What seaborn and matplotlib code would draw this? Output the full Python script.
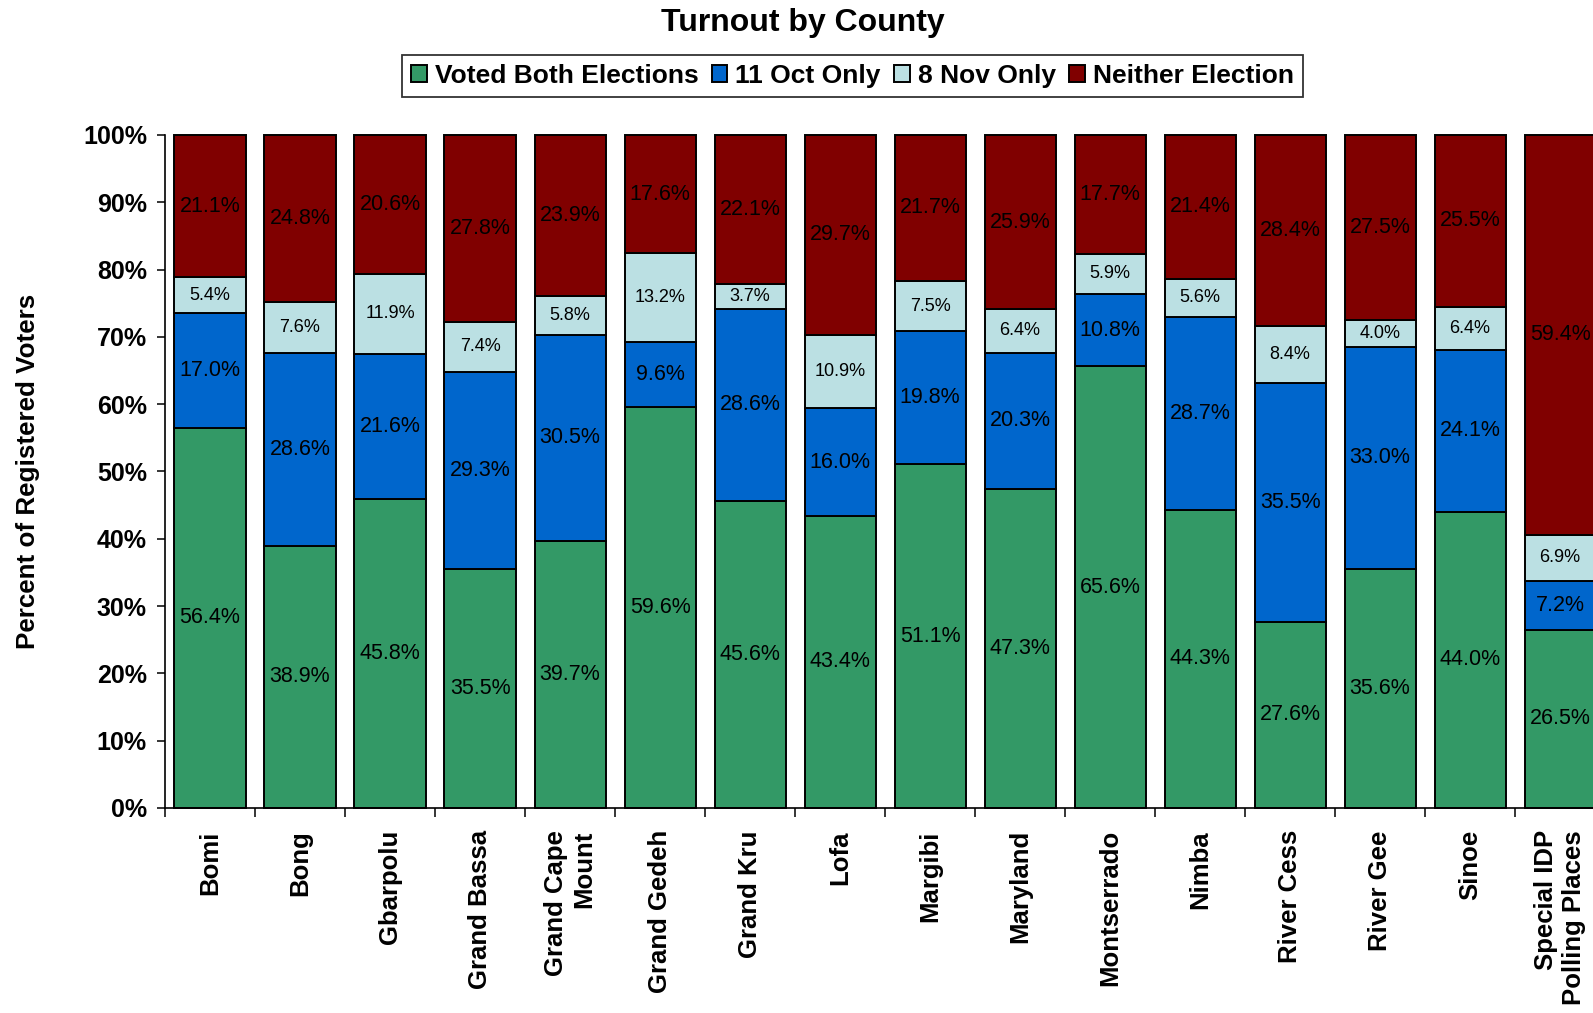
import numpy as np
import matplotlib
matplotlib.use('Agg')
import matplotlib.pyplot as plt
import seaborn as sns

# data (percent of registered voters)
counties = ['Bomi', 'Bong', 'Gbarpolu', 'Grand Bassa', 'Grand Cape\nMount', 'Grand Gedeh',
            'Grand Kru', 'Lofa', 'Margibi', 'Maryland', 'Montserrado', 'Nimba',
            'River Cess', 'River Gee', 'Sinoe', 'Special IDP\nPolling Places']
voted_both = [56.4, 38.9, 45.8, 35.5, 39.7, 59.6, 45.6, 43.4, 51.1, 47.3, 65.6, 44.3, 27.6, 35.6, 44.0, 26.5]
oct_only = [17.0, 28.6, 21.6, 29.3, 30.5, 9.6, 28.6, 16.0, 19.8, 20.3, 10.8, 28.7, 35.5, 33.0, 24.1, 7.2]
nov_only = [5.4, 7.6, 11.9, 7.4, 5.8, 13.2, 3.7, 10.9, 7.5, 6.4, 5.9, 5.6, 8.4, 4.0, 6.4, 6.9]
neither = [21.1, 24.8, 20.6, 27.8, 23.9, 17.6, 22.1, 29.7, 21.7, 25.9, 17.7, 21.4, 28.4, 27.5, 25.5, 59.4]

series_names = ['Voted Both Elections', '11 Oct Only', '8 Nov Only', 'Neither Election']
series_vals = [voted_both, oct_only, nov_only, neither]
colors = ['#339966', '#0066CC', '#BBE0E3', '#800000']
label_sizes = [15.5, 15.5, 13, 15.5]

sns.set_theme(style='white')
plt.rcParams['font.family'] = ['Liberation Sans', 'DejaVu Sans']
plt.rcParams['text.color'] = 'black'
plt.rcParams['axes.labelcolor'] = 'black'
plt.rcParams['xtick.color'] = 'black'
plt.rcParams['ytick.color'] = 'black'

fig = plt.figure(figsize=(15.93, 10.13), dpi=100)
ax = fig.add_axes([0.1036, 0.2024, 0.904, 0.6644])

# 100% stacked: scale each county to its total
vals = np.array(series_vals)
totals = vals.sum(axis=0)
shares = vals / totals * 100
bottom = np.zeros(len(counties))
for name, raw, share, col, fs in zip(series_names, vals, shares, colors, label_sizes):
    sns.barplot(x=counties, y=share, bottom=bottom, color=col, saturation=1, width=0.79,
                edgecolor='black', linewidth=1.4, errorbar=None, label=name, ax=ax, clip_on=False)
    ax.bar_label(ax.containers[-1], labels=[f'{v:.1f}%' for v in raw], label_type='center',
                 fontsize=fs, color='black')
    bottom = bottom + share

ax.set_xlim(-0.5, len(counties) - 0.5)
ax.set_ylim(0, 100)
ax.set_yticks(np.arange(0, 101, 10))
ax.set_yticklabels([f'{t}%' for t in range(0, 101, 10)], fontsize=18, fontweight='bold')
ax.set_xticks(range(len(counties)))
ax.set_xticklabels(counties, rotation=90, fontsize=18.5, fontweight='bold', ha='center', va='top',
                   ma='right')
ax.set_xticks(np.arange(-0.5, len(counties), 1), minor=True)
ax.tick_params(axis='x', which='major', length=0, pad=16)
ax.tick_params(axis='x', which='minor', length=6.5, width=1.1, color='black', direction='out', bottom=True)
ax.tick_params(axis='y', which='major', length=6, width=1.1, color='black', direction='out', left=True, pad=7)
ax.set_xlabel('')
ax.set_ylabel('Percent of Registered Voters', fontsize=18.7, fontweight='bold')
ax.yaxis.set_label_coords(-0.087, 0.5)
ax.grid(False)
for s in ['top', 'right']:
    ax.spines[s].set_visible(False)
for s in ['left', 'bottom']:
    ax.spines[s].set_color('black')
    ax.spines[s].set_linewidth(1.2)

leg = ax.legend(loc='center', bbox_to_anchor=(0.535, 0.925), bbox_transform=fig.transFigure,
                ncol=4, frameon=True, fancybox=False, edgecolor='black',
                prop={'weight': 'bold', 'size': 19}, handlelength=0.6, handleheight=0.6,
                handletextpad=0.3, columnspacing=0.5, borderpad=0.35, borderaxespad=0)
leg.get_frame().set_linewidth(1.3)

fig.text(0.504, 1 - 23 / 1013, 'Turnout by County', ha='center', va='center',
         fontsize=23, fontweight='bold')

fig.savefig('out.png', dpi=100)
